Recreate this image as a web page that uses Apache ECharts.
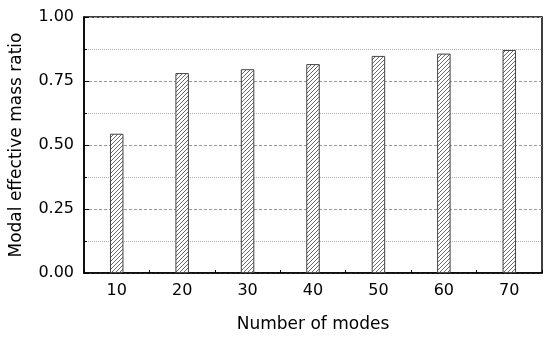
<!DOCTYPE html>
<html>
<head>
<meta charset="utf-8">
<script src="https://cdn.jsdelivr.net/npm/echarts@6/dist/echarts.min.js"></script>
<style>
  html, body { margin: 0; padding: 0; background: #fff; }
  #chart { width: 550px; height: 338px; }
</style>
</head>
<body>
<div id="chart"></div>
<script>
// data
const modes = [10, 20, 30, 40, 50, 60, 70];
const massRatio = [0.544, 0.781, 0.796, 0.816, 0.848, 0.857, 0.871];
const yTicks = ['0.00', '0.25', '0.50', '0.75', '1.00'];

// hatch fill for bars
function hatch() {
  let size = 4;
  let c = document.createElement('canvas');
  c.width = size; c.height = size;
  let ctx = c.getContext('2d');
  ctx.fillStyle = '#fff';
  ctx.fillRect(0, 0, size, size);
  ctx.strokeStyle = '#555';
  ctx.lineWidth = 0.9;
  ctx.beginPath();
  ctx.moveTo(0, size); ctx.lineTo(size, 0);
  ctx.moveTo(-1, 1); ctx.lineTo(1, -1);
  ctx.moveTo(size - 1, size + 1); ctx.lineTo(size + 1, size - 1);
  ctx.stroke();
  return c;
}

let font = '"DejaVu Sans", Arial, sans-serif';
let myChart = echarts.init(document.getElementById('chart'), null, {renderer: 'canvas'});
myChart.setOption({
  animation: false,
  grid: {
    left: 83, right: 8, top: 17, bottom: 65,
    show: true, borderColor: '#000', borderWidth: 1.5
  },
  xAxis: {
    type: 'value',
    min: 5, max: 75, interval: 5,
    name: 'Number of modes',
    nameLocation: 'middle',
    nameGap: 43,
    nameTextStyle: {color: '#000', fontSize: 17, fontFamily: font},
    axisLine: {show: true, lineStyle: {color: '#000', width: 1.5}},
    axisTick: {show: true, inside: true, length: 3, lineStyle: {color: '#000'}},
    axisLabel: {
      color: '#000', fontSize: 16, fontFamily: font, margin: 10,
      formatter: v => (v % 10 === 0 ? String(v) : '')
    },
    splitLine: {show: false}
  },
  yAxis: {
    type: 'value',
    min: 0, max: 1, interval: 0.25,
    name: 'Modal effective mass ratio',
    nameLocation: 'middle',
    nameGap: 59,
    nameTextStyle: {color: '#000', fontSize: 17, fontFamily: font},
    axisLine: {show: true, lineStyle: {color: '#000', width: 1.5}},
    axisTick: {show: true, inside: true, length: 5, lineStyle: {color: '#000'}},
    minorTick: {show: true, splitNumber: 2, length: 3, lineStyle: {color: '#000'}},
    axisLabel: {
      color: '#000', fontSize: 16, fontFamily: font, margin: 10,
      formatter: v => yTicks[Math.round(v / 0.25)]
    },
    splitLine: {show: true, lineStyle: {color: '#999', type: [3, 2], width: 1}},
    minorSplitLine: {show: true, lineStyle: {color: '#aaa', type: [1, 1], width: 1}}
  },
  series: [{
    type: 'bar',
    barWidth: 13.5,
    data: modes.map((m, i) => [m, massRatio[i]]),
    itemStyle: {
      color: {image: hatch(), repeat: 'repeat'},
      borderColor: '#444',
      borderWidth: 1
    },
    z: 3
  }]
});
</script>
</body>
</html>
